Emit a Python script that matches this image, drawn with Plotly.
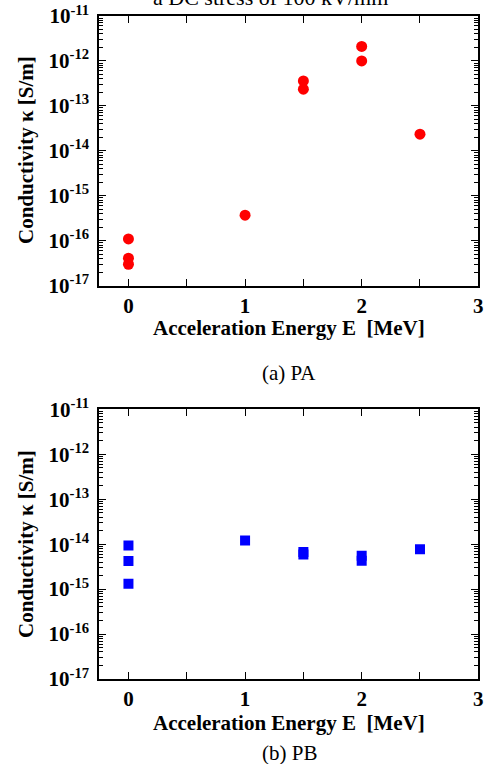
import plotly.graph_objects as go

# Data (a) PA
pa_energy = [0, 0, 0, 1, 1.5, 1.5, 2, 2, 2.5]
pa_kappa = [1.1e-16, 4.1e-17, 3.0e-17, 3.7e-16, 3.6e-13, 2.35e-13, 2.1e-12, 1.0e-12, 2.35e-14]
# Data (b) PB
pb_energy = [0, 0, 0, 1, 1.5, 1.5, 2, 2, 2.5]
pb_kappa = [9.3e-15, 4.2e-15, 1.32e-15, 1.2e-14, 6.7e-15, 5.9e-15, 5.5e-15, 4.3e-15, 7.7e-15]

x_ticks = [0, 1, 2, 3]
y_exps = [-17, -16, -15, -14, -13, -12, -11]
y_ticktext = [f"10<sup>{e}</sup>" for e in y_exps]

FONT = "Liberation Serif, Times New Roman, serif"
W, H = 486, 764

fig = go.Figure()
fig.add_trace(go.Scatter(x=pa_energy, y=pa_kappa, mode="markers",
                         marker=dict(symbol="circle", size=11, color="#ff0000"),
                         xaxis="x", yaxis="y", showlegend=False))
fig.add_trace(go.Scatter(x=pb_energy, y=pb_kappa, mode="markers",
                         marker=dict(symbol="square", size=10, color="#0000ff"),
                         xaxis="x2", yaxis="y2", showlegend=False))

def px_y(p):
    return 1 - p / H

xdom = [99.3 / W, 478.3 / W]
top_dom = [px_y(285.7), px_y(16)]
bot_dom = [px_y(679), px_y(409.3)]

xcommon = dict(range=[-0.25, 3], tickvals=x_ticks, ticktext=[str(v) for v in x_ticks],
               ticks="inside", ticklen=7, tickwidth=1.3, tickcolor="black",
               minor=dict(dtick=0.5, ticks="inside", ticklen=7, tickwidth=1.3, tickcolor="black"),
               showline=True, linewidth=1.8, linecolor="black", mirror="allticks",
               showgrid=False, zeroline=False, automargin=False,
               tickfont=dict(family=FONT, size=21, color="black", weight="bold"),
               domain=xdom)
ycommon = dict(type="log", range=[-17, -11], tickvals=[10.0 ** e for e in y_exps],
               ticktext=y_ticktext,
               ticks="inside", ticklen=7, tickwidth=1.3, tickcolor="black",
               minor=dict(ticks="inside", ticklen=4, tickwidth=1, tickcolor="black", dtick="D1"),
               showline=True, linewidth=1.8, linecolor="black", mirror="allticks",
               showgrid=False, zeroline=False, ticklabelstandoff=4, automargin=False,
               tickfont=dict(family=FONT, size=21, color="black", weight="bold"))

fig.update_layout(
    width=W, height=H, margin=dict(l=0, r=0, t=0, b=0, autoexpand=False),
    paper_bgcolor="white", plot_bgcolor="white",
    xaxis=dict(**xcommon, anchor="y"),
    yaxis=dict(**ycommon, domain=top_dom, anchor="x"),
    xaxis2=dict(**xcommon, anchor="y2"),
    yaxis2=dict(**ycommon, domain=bot_dom, anchor="x2"),
)

def ann(text, xp, yp, size, bold=True, angle=0, yanchor="middle"):
    fig.add_annotation(text=text, x=xp / W, y=px_y(yp), xref="paper", yref="paper",
                       showarrow=False, textangle=angle, xanchor="center", yanchor=yanchor,
                       font=dict(family=FONT, size=size, color="black",
                                 weight="bold" if bold else "normal"))

ann("a DC stress of 100 kV/mm", 270, -2, 22, bold=False)
ann("Conductivity κ [S/m]", 26, 150, 21, angle=-90)
ann("Conductivity κ [S/m]", 26, 544, 21, angle=-90)
ann("Acceleration Energy E  [MeV]", 289, 328, 21)
ann("Acceleration Energy E  [MeV]", 289, 723, 21)
ann("(a) PA", 289, 373, 21, bold=False)
ann("(b) PB", 289, 753, 21, bold=False)

fig.write_html("out.html")
